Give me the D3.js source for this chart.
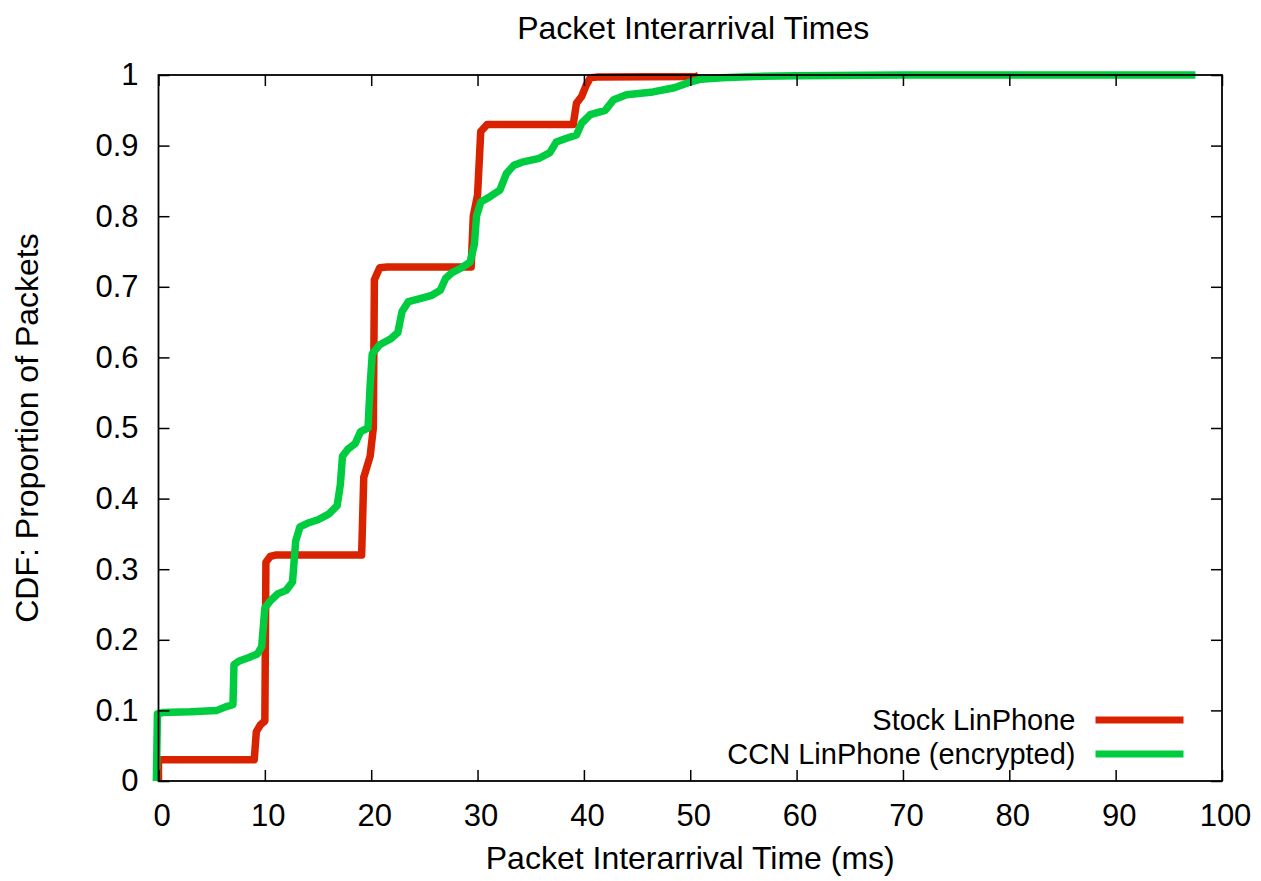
<!DOCTYPE html>
<html>
<head>
<meta charset="utf-8">
<script src="https://cdn.jsdelivr.net/npm/d3@7"></script>
<style>
  body { margin: 0; background: #fff; }
  text { font-family: "Liberation Sans", Arial, Helvetica, sans-serif; fill: #000; }
</style>
</head>
<body>
<svg id="graph" width="1261" height="881"></svg>
<script>
//x,y points of the stock LinPhone CDF (ms, proportion)
let stockX = [0, 0, 9.0, 9.2, 9.6, 10.0, 10.1, 10.5, 11.0, 19.1, 19.3, 19.9, 20.2, 20.3, 20.8, 21.5, 29.4, 29.6, 30.0, 30.3, 30.9, 31.5, 39.0, 39.3, 39.8, 40.2, 40.6, 41.2, 50.6, 50.8];
let stockY = [0, 0.03, 0.03, 0.07, 0.08, 0.085, 0.31, 0.318, 0.32, 0.32, 0.43, 0.46, 0.5, 0.71, 0.727, 0.728, 0.728, 0.8, 0.83, 0.92, 0.93, 0.93, 0.93, 0.96, 0.97, 0.985, 0.996, 0.997, 0.998, 1.0];
//x,y points of the CCN LinPhone (encrypted) CDF
let ccnX = [-0.2, -0.1, 0.4, 3.0, 5.5, 6.3, 7.0, 7.1, 7.6, 8.5, 9.3, 9.7, 10.0, 10.5, 11.2, 12.0, 12.6, 12.9, 13.3, 14.0, 15.0, 16.0, 16.8, 17.1, 17.3, 17.8, 18.5, 19.0, 19.7, 19.9, 20.1, 20.8, 21.8, 22.5, 22.9, 23.5, 24.5, 25.7, 26.5, 27.0, 27.6, 28.5, 29.3, 29.7, 29.9, 30.3, 31.2, 32.1, 32.7, 33.4, 34.3, 35.8, 36.8, 37.4, 38.3, 39.3, 39.8, 40.6, 42.0, 42.8, 44.0, 46.5, 48.5, 50.0, 51.0, 53.0, 56.0, 60.0, 70.0, 97.5];
let ccnY = [0, 0.095, 0.097, 0.098, 0.1, 0.105, 0.108, 0.165, 0.17, 0.175, 0.18, 0.19, 0.245, 0.255, 0.265, 0.27, 0.282, 0.34, 0.36, 0.365, 0.37, 0.378, 0.39, 0.42, 0.46, 0.47, 0.478, 0.495, 0.5, 0.56, 0.605, 0.618, 0.626, 0.635, 0.665, 0.679, 0.683, 0.688, 0.695, 0.712, 0.72, 0.727, 0.735, 0.76, 0.8, 0.82, 0.828, 0.837, 0.86, 0.872, 0.877, 0.882, 0.89, 0.905, 0.91, 0.915, 0.932, 0.944, 0.95, 0.965, 0.972, 0.976, 0.982, 0.99, 0.994, 0.996, 0.998, 0.999, 1.0, 1.0];
//tick values
let xTicks = [0, 10, 20, 30, 40, 50, 60, 70, 80, 90, 100];
let yTicks = [0, 0.1, 0.2, 0.3, 0.4, 0.5, 0.6, 0.7, 0.8, 0.9, 1];
//series names and colours
let seriesNames = ["Stock LinPhone", "CCN LinPhone (encrypted)"];
let seriesColors = ["#d92200", "#00cc40"];

let margin = { top: 75, right: 39, bottom: 100, left: 158.5 };
let svg = d3.select("#graph");
let width = 1261 - margin.left - margin.right;
let height = 881 - margin.top - margin.bottom;

let x = d3.scaleLinear().domain([0, 100]).range([0, width]);
let y = d3.scaleLinear().domain([0, 1]).range([height, 0]);

let g = svg.append("g").attr("transform", "translate(" + margin.left + "," + margin.top + ")");

//build the series from the arrays
let series = [
  stockX.map(function (v, i) { return [v, stockY[i]]; }),
  ccnX.map(function (v, i) { return [v, ccnY[i]]; })
];

let line = d3.line()
  .x(function (d) { return x(d[0]); })
  .y(function (d) { return y(d[1]); });

//draw the CDF lines
g.selectAll(".cdf")
  .data(series)
  .enter().append("path")
  .attr("class", "cdf")
  .attr("d", line)
  .attr("fill", "none")
  .attr("stroke", function (d, i) { return seriesColors[i]; })
  .attr("stroke-width", 7.5)
  .attr("stroke-linejoin", "round");

//axes with inward ticks, mirrored on top and right
let tickLen = 11;
g.append("g").attr("class", "xaxis").attr("transform", "translate(0," + height + ")")
  .call(d3.axisBottom(x).tickValues(xTicks).tickSizeInner(-tickLen).tickSizeOuter(0).tickPadding(23));
g.append("g").attr("class", "yaxis")
  .call(d3.axisLeft(y).tickValues(yTicks).tickFormat(d3.format("")).tickSizeInner(-tickLen).tickSizeOuter(0).tickPadding(20));
g.append("g").call(d3.axisTop(x).tickValues(xTicks).tickSizeInner(-tickLen).tickSizeOuter(0).tickFormat(""));
g.append("g").attr("transform", "translate(" + width + ",0)")
  .call(d3.axisRight(y).tickValues(yTicks).tickSizeInner(-tickLen).tickSizeOuter(0).tickFormat(""));

svg.selectAll(".domain").remove();
svg.selectAll(".tick line").attr("stroke", "#000").attr("stroke-width", 1.5);
svg.selectAll(".tick text").style("font-size", "31px").attr("fill", "#000");
svg.selectAll(".xaxis .tick text").attr("dx", "3");

//frame
g.append("rect")
  .attr("width", width).attr("height", height)
  .attr("fill", "none").attr("stroke", "#000").attr("stroke-width", 1.8);

//title and axis names
svg.append("text").attr("text-anchor", "middle").attr("x", margin.left + width / 2 + 3).attr("y", 39)
  .style("font-size", "32px").text("Packet Interarrival Times");
svg.append("text").attr("text-anchor", "middle").attr("x", margin.left + width / 2).attr("y", 869)
  .style("font-size", "32px").text("Packet Interarrival Time (ms)");
svg.append("text").attr("text-anchor", "middle")
  .attr("transform", "translate(38," + (margin.top + height / 2) + ") rotate(-90)")
  .style("font-size", "32px").text("CDF: Proportion of Packets");

//legend
let legend = g.selectAll(".legend")
  .data(seriesNames)
  .enter().append("g")
  .attr("class", "legend")
  .attr("transform", function (d, i) { return "translate(0," + (645 + i * 34) + ")"; });
legend.append("text")
  .attr("text-anchor", "end").attr("x", 917).attr("dy", "0.35em")
  .style("font-size", "29px").text(function (d) { return d; });
legend.append("line")
  .attr("x1", 937).attr("x2", 1025)
  .attr("stroke", function (d, i) { return seriesColors[i]; })
  .attr("stroke-width", 7);
</script>
</body>
</html>
